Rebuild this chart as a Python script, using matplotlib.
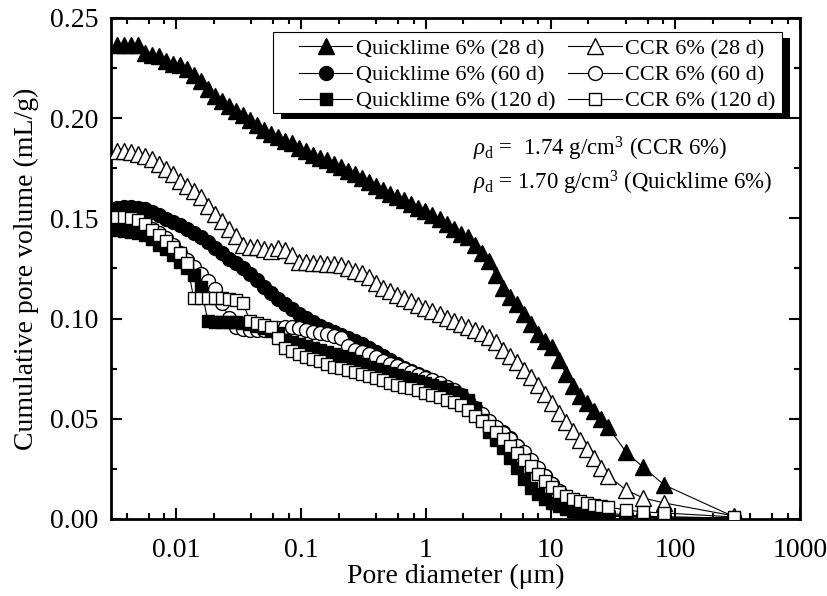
import matplotlib
matplotlib.use("Agg")
import matplotlib.pyplot as plt
from matplotlib.patches import Rectangle
from matplotlib.ticker import FixedLocator, LogLocator, MultipleLocator, FuncFormatter, NullFormatter

plt.rcParams["font.family"] = "Liberation Serif"
plt.rcParams["mathtext.fontset"] = "custom"
plt.rcParams["mathtext.rm"] = "Liberation Serif"
plt.rcParams["mathtext.it"] = "Liberation Serif:italic"

# pore diameters (um) shared by all MIP runs
diameter = [
    0.00333, 0.00379, 0.00431, 0.00491, 0.00559, 0.00636, 0.00724, 0.00824, 0.00938, 0.0107,
    0.0122, 0.0138, 0.0158, 0.0179, 0.0204, 0.0232, 0.0265, 0.0301, 0.0343, 0.0390,
    0.0444, 0.0506, 0.0575, 0.0655, 0.0746, 0.0849, 0.0966, 0.110, 0.125, 0.143,
    0.162, 0.185, 0.210, 0.239, 0.272, 0.310, 0.353, 0.402, 0.457, 0.521,
    0.593, 0.675, 0.768, 0.874, 0.995, 1.13, 1.29, 1.47, 1.67, 1.90,
    2.17, 2.47, 2.81, 3.19, 3.64, 4.14, 4.71, 5.36, 6.11, 6.95,
    7.91, 9.01, 10.3, 11.7, 13.3, 15.1, 17.2, 19.6, 22.3, 25.4,
    28.9, 40.3, 55.2, 81.5, 298.0,
]

# cumulative pore volume (mL/g)
ql_28 = [
    0.2365, 0.2365, 0.2365, 0.2365, 0.2325, 0.2315, 0.2310, 0.2285, 0.2270, 0.2265,
    0.2246, 0.2216, 0.2186, 0.2146, 0.2111, 0.2086, 0.2061, 0.2036, 0.2016, 0.1991,
    0.1966, 0.1941, 0.1921, 0.1906, 0.1886, 0.1876, 0.1851, 0.1836, 0.1816, 0.1801,
    0.1791, 0.1771, 0.1756, 0.1737, 0.1722, 0.1702, 0.1682, 0.1662, 0.1642, 0.1622,
    0.1607, 0.1592, 0.1572, 0.1552, 0.1537, 0.1517, 0.1497, 0.1472, 0.1447, 0.1422,
    0.1407, 0.1367, 0.1327, 0.1287, 0.1218, 0.1153, 0.1108, 0.1073, 0.1023, 0.0973,
    0.0923, 0.0888, 0.0858, 0.0793, 0.0724, 0.0664, 0.0614, 0.0579, 0.0539, 0.0499,
    0.0459, 0.0334, 0.0259, 0.0170, 0.0010,
]
ql_60 = [
    0.1552, 0.1557, 0.1557, 0.1552, 0.1547, 0.1532, 0.1517, 0.1497, 0.1482, 0.1467,
    0.1447, 0.1427, 0.1407, 0.1382, 0.1352, 0.1327, 0.1297, 0.1277, 0.1252, 0.1223,
    0.1193, 0.1158, 0.1128, 0.1098, 0.1073, 0.1048, 0.1023, 0.1003, 0.0983, 0.0963,
    0.0948, 0.0933, 0.0918, 0.0903, 0.0888, 0.0873, 0.0853, 0.0833, 0.0813, 0.0793,
    0.0773, 0.0753, 0.0739, 0.0724, 0.0709, 0.0694, 0.0674, 0.0654, 0.0629, 0.0604,
    0.0579, 0.0544, 0.0509, 0.0479, 0.0454, 0.0434, 0.0404, 0.0364, 0.0319, 0.0279,
    0.0245, 0.0215, 0.0175, 0.0140, 0.0110, 0.0080, 0.0060, 0.0045, 0.0030, 0.0025,
    0.0020, 0.0015, 0.0010, 0.0010, 0.0005,
]
ql_120 = [
    0.1442, 0.1437, 0.1432, 0.1427, 0.1417, 0.1397, 0.1367, 0.1347, 0.1317, 0.1282,
    0.1252, 0.1218, 0.1158, 0.0988, 0.0983, 0.0983, 0.0983, 0.0983, 0.0978, 0.0973,
    0.0963, 0.0953, 0.0938, 0.0928, 0.0893, 0.0883, 0.0873, 0.0863, 0.0853, 0.0843,
    0.0833, 0.0823, 0.0813, 0.0803, 0.0788, 0.0773, 0.0758, 0.0749, 0.0739, 0.0729,
    0.0719, 0.0709, 0.0699, 0.0689, 0.0679, 0.0669, 0.0659, 0.0649, 0.0634, 0.0619,
    0.0594, 0.0554, 0.0494, 0.0434, 0.0394, 0.0354, 0.0304, 0.0254, 0.0200, 0.0155,
    0.0125, 0.0100, 0.0080, 0.0065, 0.0050, 0.0040, 0.0030, 0.0025, 0.0020, 0.0015,
    0.0015, 0.0010, 0.0010, 0.0005, 0.0005,
]
ccr_28 = [
    0.1836, 0.1836, 0.1831, 0.1821, 0.1811, 0.1796, 0.1771, 0.1747, 0.1722, 0.1687,
    0.1662, 0.1637, 0.1607, 0.1562, 0.1522, 0.1487, 0.1447, 0.1412, 0.1367, 0.1357,
    0.1357, 0.1347, 0.1337, 0.1352, 0.1342, 0.1317, 0.1282, 0.1282, 0.1277, 0.1277,
    0.1272, 0.1272, 0.1267, 0.1252, 0.1238, 0.1228, 0.1208, 0.1178, 0.1153, 0.1138,
    0.1118, 0.1103, 0.1088, 0.1068, 0.1053, 0.1038, 0.1023, 0.1003, 0.0988, 0.0973,
    0.0958, 0.0943, 0.0928, 0.0908, 0.0883, 0.0843, 0.0813, 0.0783, 0.0744, 0.0709,
    0.0669, 0.0624, 0.0579, 0.0529, 0.0484, 0.0439, 0.0394, 0.0349, 0.0304, 0.0254,
    0.0215, 0.0145, 0.0105, 0.0080, 0.0015,
]
ccr_60 = [
    0.1507, 0.1507, 0.1502, 0.1492, 0.1472, 0.1447, 0.1427, 0.1402, 0.1367, 0.1327,
    0.1292, 0.1257, 0.1223, 0.1188, 0.1148, 0.1078, 0.1003, 0.0958, 0.0948, 0.0943,
    0.0943, 0.0943, 0.0948, 0.0953, 0.0958, 0.0958, 0.0953, 0.0943, 0.0933, 0.0928,
    0.0923, 0.0913, 0.0903, 0.0863, 0.0843, 0.0833, 0.0823, 0.0808, 0.0788, 0.0773,
    0.0763, 0.0749, 0.0734, 0.0719, 0.0704, 0.0694, 0.0679, 0.0659, 0.0644, 0.0619,
    0.0589, 0.0554, 0.0524, 0.0489, 0.0459, 0.0429, 0.0399, 0.0364, 0.0334, 0.0294,
    0.0254, 0.0215, 0.0175, 0.0140, 0.0110, 0.0090, 0.0070, 0.0055, 0.0045, 0.0035,
    0.0030, 0.0020, 0.0015, 0.0010, 0.0005,
]
ccr_120 = [
    0.1507, 0.1507, 0.1502, 0.1492, 0.1472, 0.1442, 0.1417, 0.1387, 0.1357, 0.1327,
    0.1277, 0.1103, 0.1103, 0.1103, 0.1103, 0.1103, 0.1098, 0.1093, 0.1078, 0.0988,
    0.0978, 0.0968, 0.0958, 0.0903, 0.0853, 0.0838, 0.0823, 0.0808, 0.0798, 0.0788,
    0.0773, 0.0758, 0.0753, 0.0744, 0.0734, 0.0724, 0.0714, 0.0704, 0.0694, 0.0679,
    0.0669, 0.0659, 0.0654, 0.0644, 0.0629, 0.0619, 0.0609, 0.0594, 0.0584, 0.0569,
    0.0544, 0.0514, 0.0489, 0.0464, 0.0434, 0.0399, 0.0364, 0.0329, 0.0294, 0.0264,
    0.0225, 0.0190, 0.0160, 0.0135, 0.0115, 0.0100, 0.0090, 0.0080, 0.0070, 0.0065,
    0.0060, 0.0045, 0.0035, 0.0030, 0.0010,
]

x_ticks = [0.01, 0.1, 1, 10, 100, 1000]

fig = plt.figure(figsize=(8.27, 5.96), dpi=100)
ax = fig.add_axes([0.1342, 0.1292, 0.8332, 0.8406])

# (values, marker, size, filled, label)
series = [
    (ql_28, "^", 11.5, True, "Quicklime 6% (28 d)"),
    (ccr_28, "^", 11.5, False, "CCR 6% (28 d)"),
    (ql_60, "o", 10, True, "Quicklime 6% (60 d)"),
    (ccr_60, "o", 10, False, "CCR 6% (60 d)"),
    (ql_120, "s", 9.3, True, "Quicklime 6% (120 d)"),
    (ccr_120, "s", 9.3, False, "CCR 6% (120 d)"),
]
handles = {}
for i, (vals, mk, ms, filled, label) in enumerate(series):
    h, = ax.plot(diameter, vals, color="black", lw=0.8, marker=mk, ms=ms,
                 mfc="black" if filled else "white", mec="black", mew=1.0,
                 label=label, zorder=3 + i)
    handles[label] = h

ax.set_xscale("log")
ax.set_xlim(0.003, 1000)
ax.set_ylim(0, 0.25)

ax.xaxis.set_major_locator(FixedLocator(x_ticks))
ax.xaxis.set_major_formatter(FuncFormatter(lambda v, p: "%g" % v))
ax.xaxis.set_minor_locator(LogLocator(base=10, subs=(2, 4, 6, 8), numticks=20))
ax.xaxis.set_minor_formatter(NullFormatter())
ax.yaxis.set_major_locator(MultipleLocator(0.05))
ax.yaxis.set_minor_locator(MultipleLocator(0.025))
ax.yaxis.set_major_formatter(FuncFormatter(lambda v, p: "%.2f" % v))

ax.tick_params(which="both", direction="in", top=True, right=True, width=1.5, labelsize=20)
ax.tick_params(which="major", length=8, pad=9)
ax.tick_params(axis="x", which="major", pad=14)
ax.tick_params(which="minor", length=4)
for sp in ax.spines.values():
    sp.set_linewidth(2)

ax.set_xlabel("Pore diameter (\u03bcm)", fontsize=20, labelpad=0)
ax.set_ylabel("Cumulative pore volume (mL/g)", fontsize=20, labelpad=8)

# legend box with a solid drop shadow
box = (0.235, 0.810, 0.739, 0.162)
ax.add_patch(Rectangle((box[0] + 0.0116, box[1] - 0.012), box[2], box[3], transform=ax.transAxes,
                       fc="black", ec="black", lw=0, zorder=18, clip_on=False))
ax.add_patch(Rectangle(box[:2], box[2], box[3], transform=ax.transAxes,
                       fc="white", ec="black", lw=0.8, zorder=19, clip_on=False))

order = ["Quicklime 6% (28 d)", "Quicklime 6% (60 d)", "Quicklime 6% (120 d)",
         "CCR 6% (28 d)", "CCR 6% (60 d)", "CCR 6% (120 d)"]
leg = ax.legend([handles[k] for k in order], order, ncol=2, loc="upper right",
                bbox_to_anchor=(0.974, 0.972), fontsize=16, frameon=False,
                handlelength=2.4, handletextpad=0.15, columnspacing=0.6,
                labelspacing=0.25, borderpad=0.3, borderaxespad=0)
leg.set_zorder(20)

ax.text(0.525, 0.739, r"$\rho_{\rm d}$ =  1.74 g/cm$^3$ (CCR 6%)", transform=ax.transAxes,
        fontsize=16.5, va="center", ha="left")
ax.text(0.525, 0.671, r"$\rho_{\rm d}$ = 1.70 g/cm$^3$ (Quicklime 6%)", transform=ax.transAxes,
        fontsize=16.5, va="center", ha="left")

fig.savefig("out.png", dpi=100)
